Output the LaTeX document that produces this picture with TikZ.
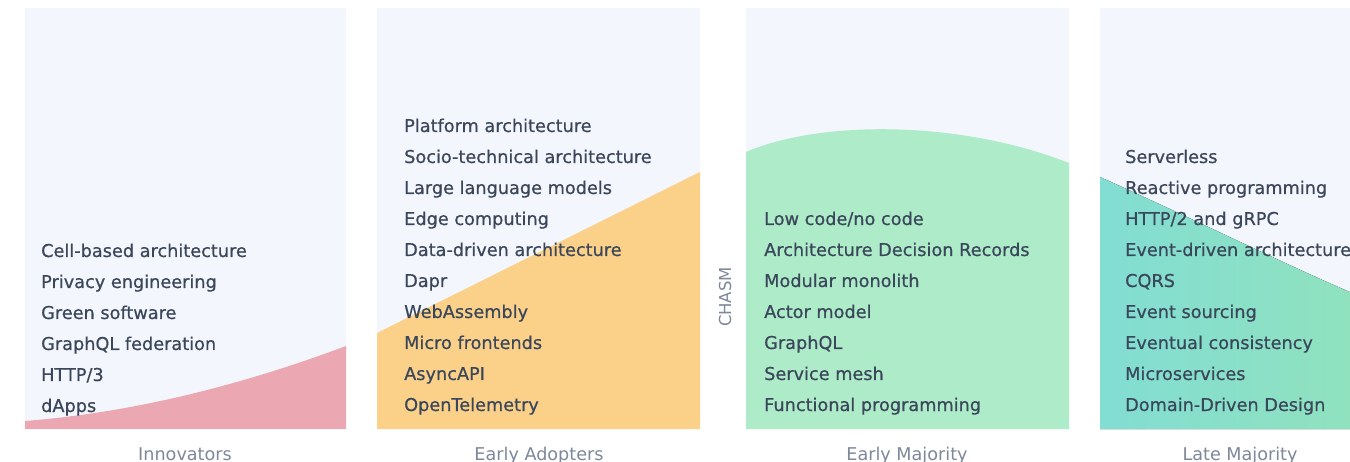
\documentclass[tikz,border=0pt]{standalone}
\usepackage{fontspec}
\setmainfont{DejaVu Sans}
\newfontfamily\topicfont{DejaVu Sans}[FakeBold=0.6]
\usepackage{tikz}
\usetikzlibrary{positioning}
\definecolor{Ink}{HTML}{3A4659}
\definecolor{Muted}{HTML}{7E889A}
\definecolor{PanelBg}{HTML}{F3F6FC}
\definecolor{PinkFill}{HTML}{EBA8B2}
\definecolor{OrangeFill}{HTML}{FBD18A}
\definecolor{GreenFill}{HTML}{AEEBC9}
\definecolor{TealLeft}{HTML}{82DDD3}
\definecolor{TealRight}{HTML}{90E2BE}
\tikzset{
  panel/.style={fill=PanelBg,draw=none},
  item/.style={anchor=base west,inner sep=0pt,text=Ink,font=\topicfont\fontsize{17.7}{18}\selectfont},
  phase/.style={anchor=base,inner sep=0pt,text=Muted,font=\fontsize{17.6}{18}\selectfont},
  chasm/.style={rotate=90,inner sep=0pt,text=Muted,font=\fontsize{16.5}{17}\selectfont}
}

\begin{document}
\begin{tikzpicture}[x=1pt,y=-1pt]
\useasboundingbox (0,0) rectangle (1350,462);
\fill[white] (0,0) rectangle (1350,462);
% panels
\fill[panel] (25,8) rectangle (346,429);
\fill[panel] (377,8) rectangle (700,429);
\fill[panel] (746,8) rectangle (1069,429);
\fill[panel] (1100,8) rectangle (1352,429);
% adoption curve
\fill[PinkFill] (25,421) .. controls (140,412) and (250,382) .. (346,346) -- (346,429) -- (25,429) -- cycle;
\fill[OrangeFill] (377,333) -- (700,172) -- (700,429) -- (377,429) -- cycle;
\fill[GreenFill] (746,152) .. controls (820,120) and (960,120) .. (1069,163) -- (1069,429) -- (746,429) -- cycle;
\fill[left color=TealLeft,right color=TealRight] (1100,177) .. controls (1200,222) and (1280,262) .. (1352,293) -- (1352,429) -- (1100,429) -- cycle;
% topics
\foreach \t [count=\i] in {Cell-based architecture,Privacy engineering,Green software,GraphQL federation,HTTP/3,dApps}
  \node[item] (inno\i) at (41,{257+31*(\i-1)}) {\t};
\foreach \t [count=\i] in {Platform architecture,Socio-technical architecture,Large language models,Edge computing,Data-driven architecture,Dapr,WebAssembly,Micro frontends,AsyncAPI,OpenTelemetry}
  \node[item] (early\i) at (404,{132+31*(\i-1)}) {\t};
\foreach \t [count=\i] in {Low code/no code,Architecture Decision Records,Modular monolith,Actor model,GraphQL,Service mesh,Functional programming}
  \node[item] (major\i) at (764,{225+31*(\i-1)}) {\t};
\foreach \t [count=\i] in {Serverless,Reactive programming,HTTP/2 and gRPC,Event-driven architecture,CQRS,Event sourcing,Eventual consistency,Microservices,Domain-Driven Design}
  \node[item] (late\i) at (1125,{163+31*(\i-1)}) {\t};
% phases
\node[phase] (innovators) at (185,460) {Innovators};
\node[phase] (adopters) at (539,460) {Early Adopters};
\node[phase] (earlymaj) at (907,460) {Early Majority};
\node[phase] (latemaj) at (1240,460) {Late Majority};
\node[chasm] (chasm) at (725,297) {CHASM};
\end{tikzpicture}
\end{document}
